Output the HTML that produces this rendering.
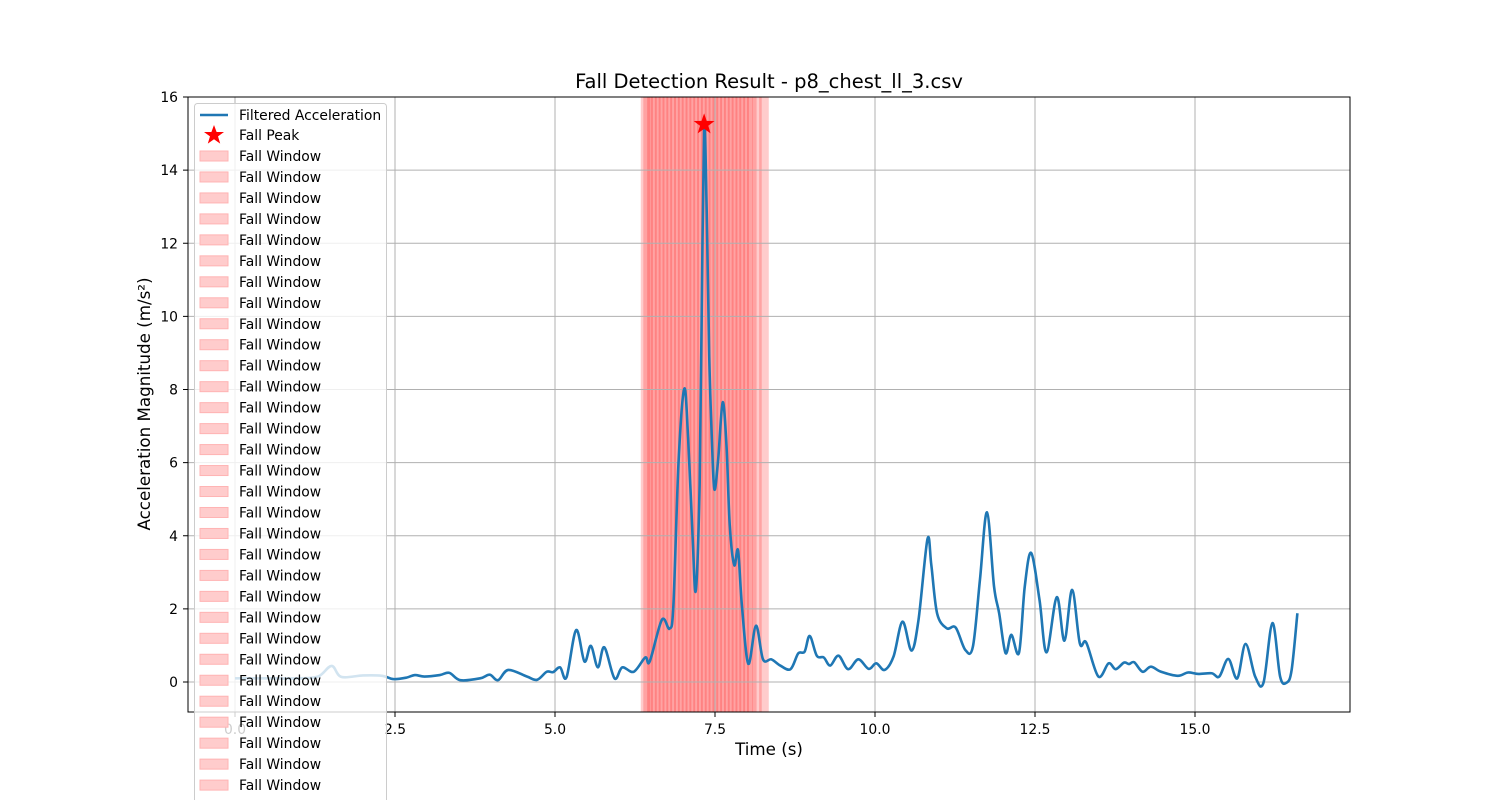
<!DOCTYPE html>
<html><head><meta charset="utf-8"><style>
html,body{margin:0;padding:0;background:#fff}
svg{display:block;font-family:"DejaVu Sans","Liberation Sans",sans-serif}
</style></head><body>
<svg id="chart" width="1500" height="800" viewBox="0 0 1500 800"></svg>
<script>
const times=[0,0.5,1.0,1.3,1.51,1.66,2.0,2.3,2.47,2.68,2.81,2.96,3.2,3.35,3.52,3.83,3.98,4.11,4.27,4.56,4.72,4.87,4.97,5.08,5.18,5.33,5.46,5.56,5.67,5.77,5.93,6.05,6.23,6.41,6.48,6.67,6.79,6.85,6.93,7.02,7.08,7.15,7.20,7.26,7.29,7.33,7.37,7.41,7.45,7.49,7.55,7.62,7.68,7.73,7.80,7.86,7.92,8.02,8.14,8.25,8.38,8.52,8.68,8.80,8.90,8.98,9.09,9.20,9.30,9.43,9.58,9.74,9.90,10.02,10.15,10.29,10.43,10.57,10.68,10.82,10.88,10.97,11.12,11.26,11.41,11.53,11.64,11.75,11.86,11.94,12.04,12.13,12.25,12.34,12.44,12.57,12.68,12.84,12.96,13.08,13.20,13.30,13.49,13.65,13.76,13.89,13.97,14.05,14.18,14.31,14.47,14.73,14.89,15.05,15.26,15.38,15.52,15.66,15.79,15.94,16.07,16.21,16.33,16.43,16.51,16.60];
const accel=[0.1,0.1,0.1,0.15,0.44,0.14,0.18,0.17,0.08,0.12,0.19,0.15,0.19,0.25,0.05,0.1,0.2,0.05,0.33,0.15,0.06,0.28,0.27,0.4,0.13,1.42,0.56,0.99,0.4,0.95,0.1,0.4,0.28,0.67,0.56,1.7,1.46,2.1,6.0,8.02,6.67,3.97,2.5,5.4,9.7,15.16,12.9,8.9,6.7,5.27,6.1,7.65,6.45,4.3,3.2,3.6,2.1,0.5,1.54,0.62,0.62,0.45,0.35,0.78,0.83,1.26,0.72,0.67,0.45,0.72,0.35,0.62,0.36,0.51,0.33,0.7,1.65,0.86,1.7,3.91,3.2,1.88,1.47,1.49,0.88,0.97,2.8,4.64,2.61,1.88,0.79,1.29,0.8,2.61,3.53,2.25,0.81,2.32,1.13,2.52,1.06,1.08,0.15,0.51,0.35,0.53,0.49,0.54,0.28,0.42,0.28,0.17,0.26,0.22,0.24,0.15,0.63,0.1,1.04,0.15,-0.02,1.61,0.15,-0.02,0.33,1.88];
const peakTime=[7.33];
const peakValue=[15.25];
const windowStarts=[6.34,6.38,6.44,6.50,6.56,6.62,6.68,6.74,6.80,6.86,6.92,6.98,7.04,7.10,7.16,7.22,7.28,7.34,7.40,7.46,7.52,7.58,7.64,7.70,7.76,7.82,7.88,7.94,8.00,8.08,8.19];
const windowLength=0.15;
const xTicks=[0,2.5,5,7.5,10,12.5,15];
const xTickLabels=["0.0","2.5","5.0","7.5","10.0","12.5","15.0"];
const yTicks=[0,2,4,6,8,10,12,14,16];
const yTickLabels=["0","2","4","6","8","10","12","14","16"];

const L=188,R=1350,T=97,B=712;
const sx=t=>235+t*64;
const sy=v=>682-v*36.5625;
const NS="http://www.w3.org/2000/svg";
const svg=document.getElementById('chart');
function mk(tag,attrs,parent){const e=document.createElementNS(NS,tag);for(const k in attrs)e.setAttribute(k,attrs[k]);(parent||svg).appendChild(e);return e;}

const defs=mk('defs',{});
const cp=mk('clipPath',{id:'pc'},defs);
mk('rect',{x:L,y:T,width:R-L,height:B-T},cp);

const wg=mk('g',{'clip-path':'url(#pc)'});


windowStarts.forEach((s,i)=>{
  const r=mk('rect',{x:sx(s),y:T,width:sx(s+windowLength)-sx(s),height:B-T,fill:'#ff0000','fill-opacity':0.2},wg);
  
  
});

const gg=mk('g',{});


xTicks.forEach(t=>mk('line',{x1:sx(t),x2:sx(t),y1:T,y2:B,stroke:'#b0b0b0','stroke-width':1},gg));
yTicks.forEach(v=>mk('line',{x1:L,x2:R,y1:sy(v),y2:sy(v),stroke:'#b0b0b0','stroke-width':1},gg));

const pts=times.map((t,i)=>[sx(t),sy(accel[i])]);
let d='M'+pts[0][0]+','+pts[0][1];
for(let i=0;i<pts.length-1;i++){
  const p0=pts[Math.max(0,i-1)],p1=pts[i],p2=pts[i+1],p3=pts[Math.min(pts.length-1,i+2)];
  const c1=[p1[0]+(p2[0]-p0[0])/6,p1[1]+(p2[1]-p0[1])/6];
  const c2=[p2[0]-(p3[0]-p1[0])/6,p2[1]-(p3[1]-p1[1])/6];
  d+=`C${c1[0].toFixed(2)},${c1[1].toFixed(2)} ${c2[0].toFixed(2)},${c2[1].toFixed(2)} ${p2[0].toFixed(2)},${p2[1].toFixed(2)}`;
}
const line=mk('path',{d:d,fill:'none',stroke:'#1f77b4','stroke-width':2.6,'stroke-linejoin':'round','clip-path':'url(#pc)'});



function star(cx,cy,r){let s='';for(let k=0;k<10;k++){const a=-Math.PI/2+k*Math.PI/5;const rr=k%2?r*0.4:r;s+=(k?'L':'M')+(cx+rr*Math.cos(a)).toFixed(2)+','+(cy+rr*Math.sin(a)).toFixed(2);}return s+'Z';}
peakTime.forEach((t,i)=>{
  const p=mk('path',{d:star(sx(t),sy(peakValue[i]),11),fill:'#ff0000'});
  
  
});

const fr=mk('rect',{x:L,y:T,width:R-L,height:B-T,fill:'none',stroke:'#000','stroke-width':1});



const xa=mk('g',{});


xTicks.forEach((t,i)=>{
  mk('line',{x1:sx(t),x2:sx(t),y1:B,y2:B+5,stroke:'#000'},xa);
  const tx=mk('text',{x:sx(t),y:B+22,'font-size':13.9,'text-anchor':'middle',fill:'#000'},xa);
  tx.textContent=xTickLabels[i];
  
  
});
const ya=mk('g',{});


yTicks.forEach((v,i)=>{
  mk('line',{x1:L-5,x2:L,y1:sy(v),y2:sy(v),stroke:'#000'},ya);
  const tx=mk('text',{x:L-10,y:sy(v)+5,'font-size':13.9,'text-anchor':'end',fill:'#000'},ya);
  tx.textContent=yTickLabels[i];
  
  
});
</script>
<svg width="1500" height="800" style="position:absolute;left:0;top:0">
<text x="769" y="88" font-size="19.5" text-anchor="middle" fill="#000">Fall Detection Result - p8_chest_ll_3.csv</text>
<text x="769" y="755" font-size="16.7" text-anchor="middle" fill="#000">Time (s)</text>
<text x="150" y="404" font-size="16.7" text-anchor="middle" fill="#000" transform="rotate(-90 150 404)">Acceleration Magnitude (m/s²)</text>
<g font-size="13.9" fill="#000">
<rect x="194.5" y="103.5" width="192" height="710" rx="3" fill="#fff" fill-opacity="0.8" stroke="#cccccc"/>
<line x1="200" x2="228" y1="115" y2="115" stroke="#1f77b4" stroke-width="2.6"/>
<text x="239" y="120">Filtered Acceleration</text>
<path d="M214,125 L216.6,132 L224,132 L218,136.4 L220.2,143.6 L214,139.2 L207.8,143.6 L210,136.4 L204,132 L211.4,132Z" fill="#ff0000"/>
<text x="239" y="140">Fall Peak</text>
<g id="lw"></g>
</g>
</svg>
<script>
const lw=document.getElementById('lw');
for(let i=0;i<31;i++){
  const y=156+i*20.97;
  const r=document.createElementNS("http://www.w3.org/2000/svg",'rect');
  r.setAttribute('x',200);r.setAttribute('y',y-5);r.setAttribute('width',28);r.setAttribute('height',10);
  r.setAttribute('fill','#ffcccc');r.setAttribute('stroke','#ffb3b3');
  
  
  lw.appendChild(r);
  const t=document.createElementNS("http://www.w3.org/2000/svg",'text');
  t.setAttribute('x',239);t.setAttribute('y',y+5);t.textContent='Fall Window';
  
  
  lw.appendChild(t);
}
</script>
</body></html>
